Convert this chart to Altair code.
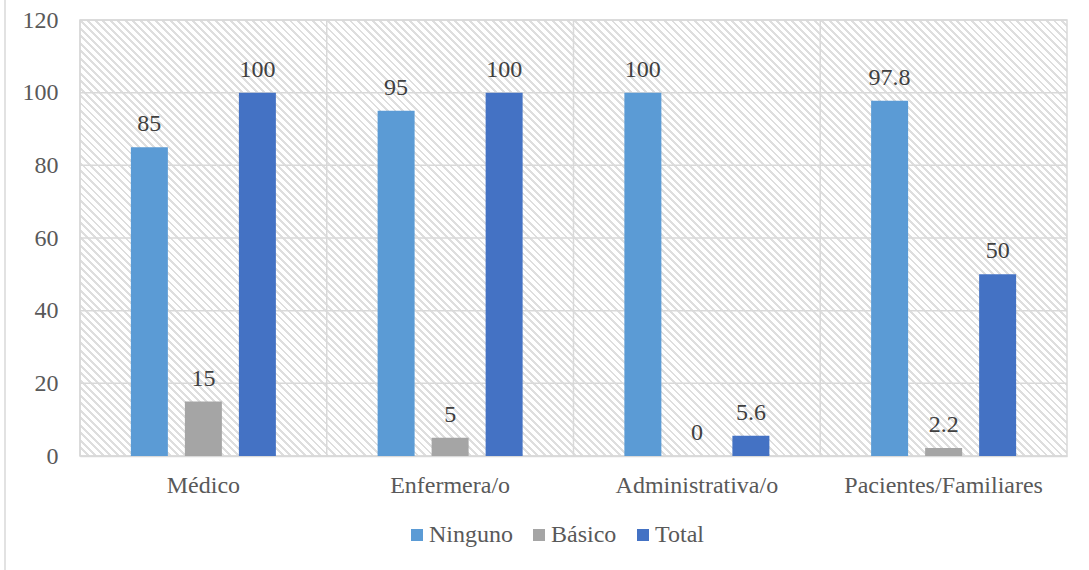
import math
import altair as alt
import pandas as pd

# Survey categories and the three series (percent)
categorias = ["Médico", "Enfermera/o", "Administrativa/o", "Pacientes/Familiares"]
series = ["Ninguno", "Básico", "Total"]
ninguno = [85, 95, 100, 97.8]
basico = [15, 5, 0, 2.2]
total = [100, 100, 5.6, 50]
colores = ["#5B9BD5", "#A5A5A5", "#4472C4"]
y_ticks = [0, 20, 40, 60, 80, 100, 120]

rows = []
for serie, valores in zip(series, [ninguno, basico, total]):
    for cat, v in zip(categorias, valores):
        rows.append({"categoria": cat, "serie": serie, "valor": v})
df = pd.DataFrame(rows)
ticks_df = pd.DataFrame({"valor": y_ticks})
cats_df = pd.DataFrame({"categoria": categorias})

W, H = 987, 436
FONT = "Liberation Serif"
GRID = "#d9d9d9"

# Diagonal hatch for the plot background, built as a striped linear gradient.
# Coordinates are in bounding-box units; the end point is chosen so the stripes
# run at 45 degrees on the W x H area.
s = W * (H + W) / (H * H + W * W)
period = 5.3
n = int(round((W + H) / math.sqrt(2) / period))
frac = 0.38
stops = []
for k in range(n):
    a = k / n
    b = (k + frac) / n
    c = (k + 1) / n
    stops += [
        {"offset": a, "color": "#dedede"},
        {"offset": b, "color": "#dedede"},
        {"offset": b, "color": "#ffffff"},
        {"offset": c, "color": "#ffffff"},
    ]
hatch = {
    "gradient": "linear",
    "x1": 0, "y1": 1,
    "x2": s, "y2": 1 - s * H / W,
    "stops": stops,
}

x_scale = alt.Scale(domain=categorias, paddingInner=0, paddingOuter=0)
y_scale = alt.Scale(domain=[0, 120], nice=False)

x_axis = alt.Axis(
    labelAngle=0, labelAlign="center", labelBaseline="top", labelLimit=400,
    ticks=False, tickSize=0, grid=False,
    domainColor=GRID, domainWidth=1.5,
    labelFont=FONT, labelFontSize=24, labelColor="#595959", labelPadding=17,
)
y_axis = alt.Axis(
    values=y_ticks, ticks=False, tickSize=0, domain=False, grid=False,
    labelFont=FONT, labelFontSize=24, labelColor="#595959", labelPadding=22,
)

# hatched plot background with its border
background = alt.Chart(alt.Data(values=[{"k": 0}])).mark_rect(
    color=hatch, stroke=GRID, strokeWidth=1.5
).encode(x=alt.value(0), x2=alt.value(W), y=alt.value(0), y2=alt.value(H))

# horizontal gridlines at the y ticks
hgrid = alt.Chart(ticks_df).mark_rule(color=GRID, strokeWidth=1.5).encode(
    y=alt.Y("valor:Q", scale=y_scale, axis=y_axis, title=None)
)

# vertical gridlines at the category boundaries
vgrid = alt.Chart(cats_df).mark_rule(color=GRID, strokeWidth=1.5).encode(
    x=alt.X("categoria:N", sort=categorias, scale=x_scale, bandPosition=0,
            axis=x_axis, title=None)
)

bars = alt.Chart(df).mark_bar().encode(
    x=alt.X("categoria:N", sort=categorias, scale=x_scale, axis=x_axis, title=None),
    xOffset=alt.XOffset(
        "serie:N", sort=series,
        scale=alt.Scale(paddingInner=0.315, paddingOuter=0.942),
    ),
    y=alt.Y("valor:Q", scale=y_scale, axis=y_axis, title=None),
    color=alt.Color(
        "serie:N", sort=series,
        scale=alt.Scale(domain=series, range=colores),
        legend=alt.Legend(
            title=None, orient="none", direction="horizontal",
            legendX=325, legendY=503,
            symbolType="square", symbolSize=144, symbolStrokeWidth=0,
            labelFont=FONT, labelFontSize=24, labelColor="#595959",
            labelOffset=0, columnPadding=14,
        ),
    ),
)

labels = alt.Chart(df).mark_text(
    font=FONT, fontSize=24, color="#404040", baseline="alphabetic", dy=-16
).encode(
    x=alt.X("categoria:N", sort=categorias, scale=x_scale, axis=x_axis, title=None),
    xOffset=alt.XOffset("serie:N", sort=series),
    y=alt.Y("valor:Q", scale=y_scale, axis=y_axis, title=None),
    text=alt.Text("valor:Q", format=".1~f"),
)

# outer frame line on the left edge
frame = alt.Chart(alt.Data(values=[{"k": 0}])).mark_rule(
    color=GRID, strokeWidth=1.5
).encode(x=alt.value(-75), y=alt.value(-20), y2=alt.value(550))

chart = (
    alt.layer(background, hgrid, vgrid, bars, labels, frame)
    .properties(
        width=W, height=H,
        autosize=alt.AutoSizeParams(type="none"),
        padding={"left": 80, "top": 20, "right": 22, "bottom": 114},
        background="white",
    )
    .configure(font=FONT)
    .configure_view(stroke=None)
)

chart.save("out.html", embed_options={"renderer": "svg", "actions": False})
